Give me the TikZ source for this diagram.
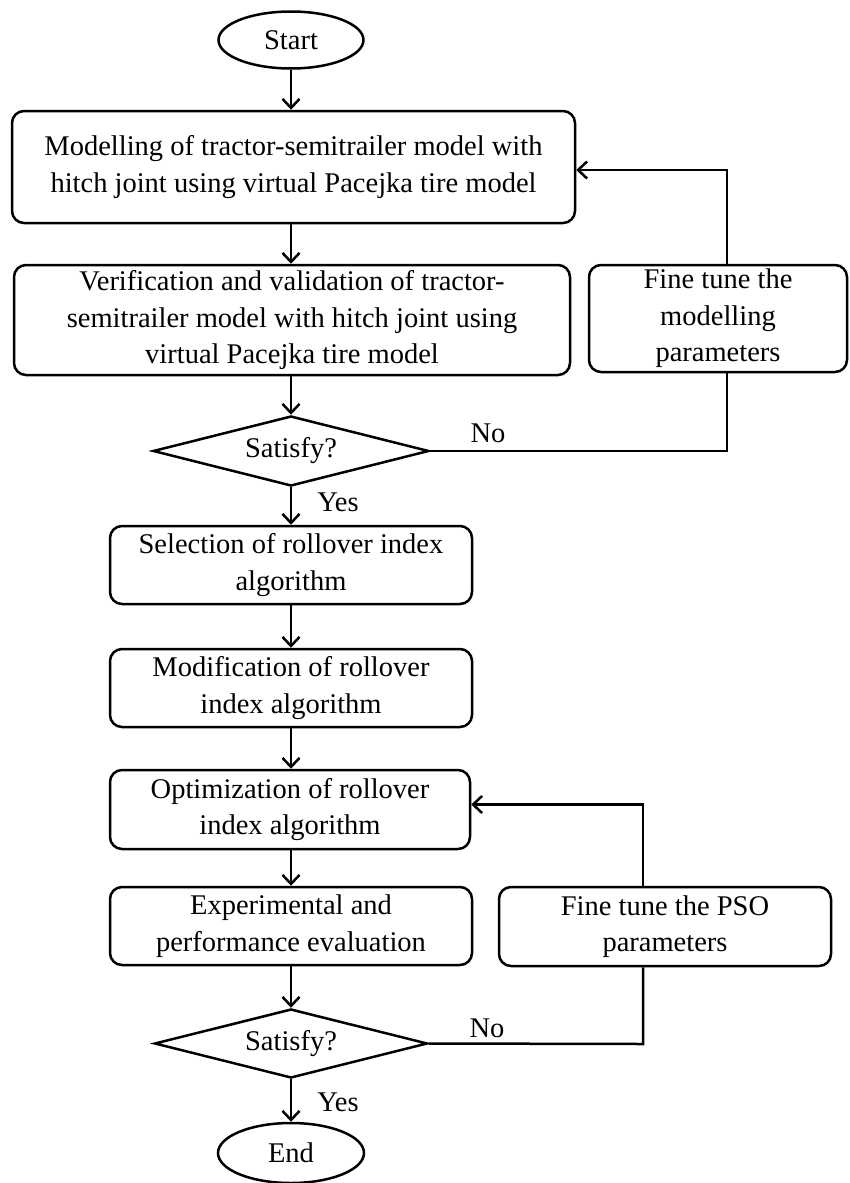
\documentclass[tikz,border=0pt]{standalone}
\usepackage{fontspec}
\setmainfont{Liberation Serif}
\usetikzlibrary{shapes.geometric,arrows.meta}
\begin{document}
\begin{tikzpicture}[x=1pt,y=-1pt,
  every node/.style={font=\fontsize{28.5}{36.5}\selectfont},
  procbox/.style={draw,line width=2.5pt,rounded corners=12pt,align=center,inner sep=0pt},
  termnode/.style={draw,ellipse,line width=2.5pt,inner sep=0pt},
  decnode/.style={draw,diamond,line width=2.5pt,inner sep=0pt,aspect=3.9},
  flow/.style={line width=2.5pt,-{Straight Barb[length=9pt,width=17pt,line width=2.5pt]}},
  plainline/.style={line width=2.5pt}]
\useasboundingbox (0,0) rectangle (849,1183);
\node[termnode,minimum width=145pt,minimum height=57pt] (start) at (291,40) {Start};
\node[procbox,minimum width=563pt,minimum height=112pt] (box1) at (293.5,167)
  {Modelling of tractor-semitrailer model with\\hitch joint using virtual Pacejka tire model};
\node[procbox,minimum width=556pt,minimum height=110pt] (box2) at (292,320)
  {Verification and validation of tractor-\\semitrailer model with hitch joint using\\virtual Pacejka tire model};
\node[procbox,minimum width=258pt,minimum height=107pt] (ft1) at (718,318.5)
  {Fine tune the\\modelling\\parameters};
\node[decnode,minimum width=276pt,minimum height=70pt] (d1) at (291,451) {Satisfy?};
\node[procbox,minimum width=362pt,minimum height=78pt] (box3) at (291,565)
  {Selection of rollover index\\algorithm};
\node[procbox,minimum width=362pt,minimum height=78pt] (box4) at (291,688)
  {Modification of rollover\\index algorithm};
\node[procbox,minimum width=360pt,minimum height=79pt] (box5) at (290,809.5)
  {Optimization of rollover\\index algorithm};
\node[procbox,minimum width=362pt,minimum height=78pt] (box6) at (291,926)
  {Experimental and\\performance evaluation};
\node[procbox,minimum width=332pt,minimum height=79pt] (ft2) at (665,926.5)
  {Fine tune the PSO\\parameters};
\node[decnode,minimum width=273pt,minimum height=69pt] (d2) at (291,1043.5) {Satisfy?};
\node[termnode,minimum width=146pt,minimum height=60pt] (end) at (291,1153) {End};
\node (no1) at (488,433) {No};
\node (yes1) at (338,502) {Yes};
\node (no2) at (487,1028) {No};
\node (yes2) at (338,1102) {Yes};
\coordinate (c1) at (727,451);
\coordinate (c2) at (643,1044);
\draw[flow] (start) -- (start |- box1.north);
\draw[flow] (start |- box1.south) -- (start |- box2.north);
\draw[flow] (start |- box2.south) -- (d1);
\draw[flow] (d1) -- (box3);
\draw[flow] (box3) -- (box4);
\draw[flow] (box4) -- (box5.north -| box4);
\draw[flow] (box5.south -| box4) -- (box6);
\draw[flow] (box6) -- (d2);
\draw[flow] (d2) -- (end);
\draw[plainline] (d1.east) -- (c1) -- (c1 |- ft1.south);
\draw[flow] (c1 |- ft1.north) |- ([yshift=-3pt]box1.east);
\draw[plainline] (d2.east) -- (c2) -- (c2 |- ft2.south);
\draw[flow] (c2 |- ft2.north) |- ([yshift=5pt]box5.east);
\end{tikzpicture}
\end{document}
